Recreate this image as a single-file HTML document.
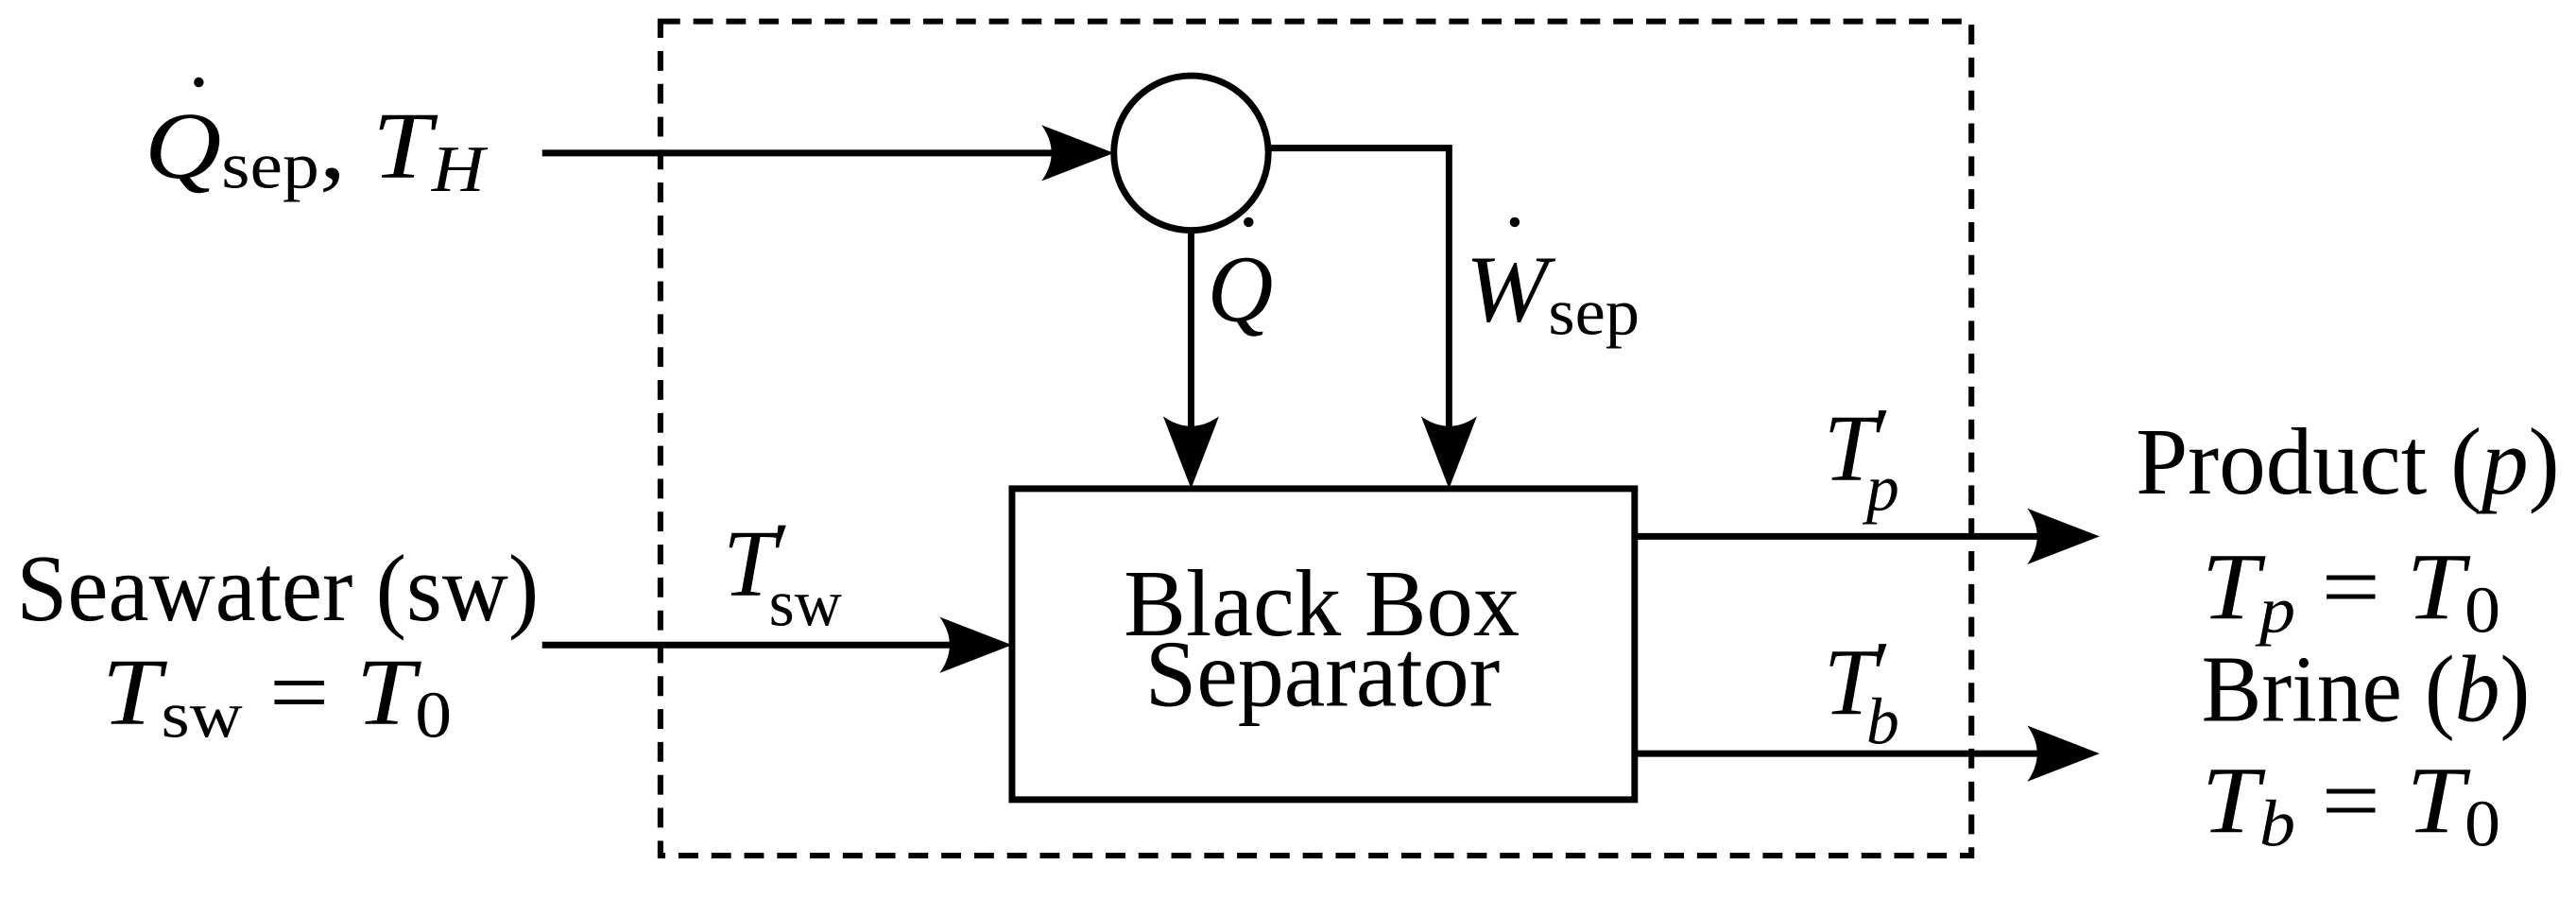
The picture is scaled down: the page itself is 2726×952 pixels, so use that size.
<!DOCTYPE html>
<html><head><style>html,body{margin:0;padding:0;background:#fff}svg{display:block}</style></head>
<body>
<svg width="2726" height="952" viewBox="0 0 1568 547" preserveAspectRatio="none" xmlns="http://www.w3.org/2000/svg" font-family="Liberation Serif, serif" font-size="58" fill="#000">
<defs>
<path id="ah" d="M0,0 L-44,-17 Q-32,0 -44,17 Z"/>
</defs>
<rect x="402" y="13" width="798" height="507" fill="none" stroke="#000" stroke-width="3.5" stroke-dasharray="12,8"/>
<g stroke="#000" stroke-width="4" fill="none">
<line x1="330" y1="93" x2="650" y2="93"/>
<circle cx="725" cy="93" r="47"/>
<polyline points="771,90 882,90 882,270"/>
<line x1="725" y1="140" x2="725" y2="270"/>
<rect x="616" y="297" width="379" height="189"/>
<line x1="330" y1="392" x2="590" y2="392"/>
<line x1="995" y1="326" x2="1252" y2="326"/>
<line x1="995" y1="458" x2="1252" y2="458"/>
</g>
<use href="#ah" transform="translate(678,93)"/>
<use href="#ah" transform="translate(616,392)"/>
<use href="#ah" transform="translate(1278,326)"/>
<use href="#ah" transform="translate(1278,458)"/>
<use href="#ah" transform="translate(725,297) rotate(90)"/>
<use href="#ah" transform="translate(882,297) rotate(90)"/>

<text x="88" y="108" textLength="207" lengthAdjust="spacingAndGlyphs"><tspan font-style="italic">Q</tspan><tspan font-size="40" dy="6">sep</tspan><tspan dy="-6">, </tspan><tspan font-style="italic">T</tspan><tspan font-style="italic" font-size="40" dy="8">H</tspan></text>
<circle cx="121" cy="50" r="3"/>
<text x="735" y="195" font-style="italic" textLength="40" lengthAdjust="spacingAndGlyphs">Q</text>
<circle cx="760" cy="135" r="3"/>
<text x="892" y="195" textLength="106" lengthAdjust="spacingAndGlyphs"><tspan font-style="italic">W</tspan><tspan font-size="40" dy="8">sep</tspan></text>
<circle cx="922" cy="135" r="3"/>

<text x="10" y="377" textLength="318" lengthAdjust="spacingAndGlyphs">Seawater (sw)</text>
<text x="62" y="440" textLength="213" lengthAdjust="spacingAndGlyphs"><tspan font-style="italic">T</tspan><tspan font-size="40" dy="8">sw</tspan><tspan dy="-8"> = </tspan><tspan font-style="italic">T</tspan><tspan font-size="40" dy="8">0</tspan></text>
<text x="440" y="362" font-style="italic">T</text>
<text x="470" y="352" font-size="50">′</text>
<text x="468" y="380" font-size="40">sw</text>

<text x="684" y="386" textLength="241" lengthAdjust="spacingAndGlyphs">Black Box</text>
<text x="697" y="429" textLength="216" lengthAdjust="spacingAndGlyphs">Separator</text>

<text x="1110" y="292" font-style="italic">T</text>
<text x="1140" y="282" font-size="50">′</text>
<text x="1136" y="310" font-size="40" font-style="italic">p</text>
<text x="1110" y="434" font-style="italic">T</text>
<text x="1140" y="424" font-size="50">′</text>
<text x="1136" y="452" font-size="40" font-style="italic">b</text>

<text x="1300" y="300" textLength="258" lengthAdjust="spacingAndGlyphs">Product (<tspan font-style="italic">p</tspan>)</text>
<text x="1340" y="376" textLength="182" lengthAdjust="spacingAndGlyphs"><tspan font-style="italic">T</tspan><tspan font-size="40" font-style="italic" dy="8">p</tspan><tspan dy="-8"> = </tspan><tspan font-style="italic">T</tspan><tspan font-size="40" dy="8">0</tspan></text>
<text x="1340" y="438" textLength="200" lengthAdjust="spacingAndGlyphs">Brine (<tspan font-style="italic">b</tspan>)</text>
<text x="1340" y="506" textLength="182" lengthAdjust="spacingAndGlyphs"><tspan font-style="italic">T</tspan><tspan font-size="40" font-style="italic" dy="8">b</tspan><tspan dy="-8"> = </tspan><tspan font-style="italic">T</tspan><tspan font-size="40" dy="8">0</tspan></text>
</svg>
</body></html>
